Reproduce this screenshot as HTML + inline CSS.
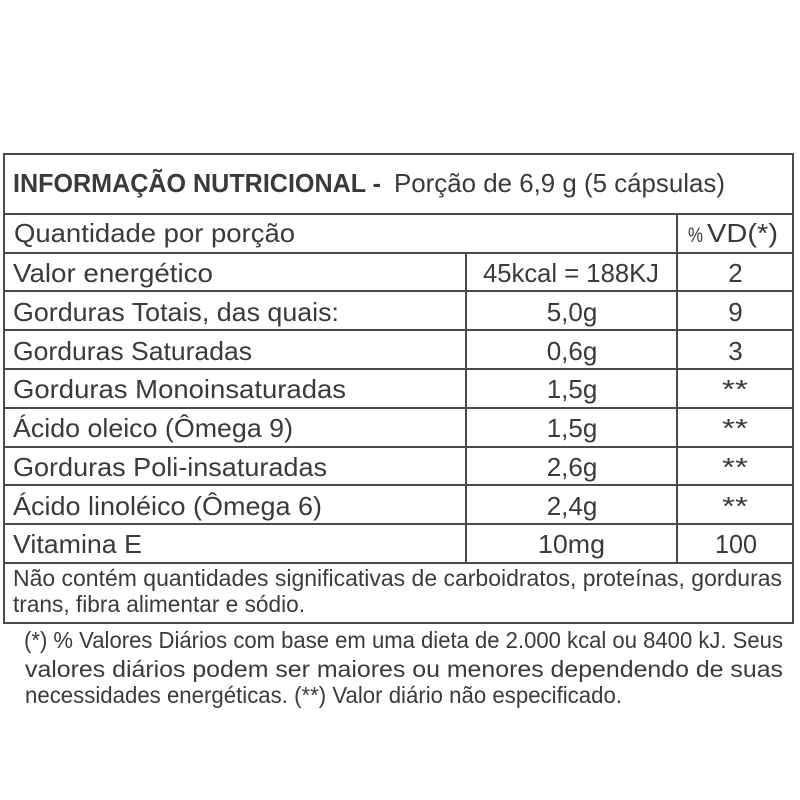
<!DOCTYPE html>
<html><head><meta charset="utf-8"><style>
html,body{margin:0;padding:0;background:#fff;}
svg{display:block;}
text{font-family:"Liberation Sans",sans-serif;fill:#3a3a3a;}
</style></head><body>
<svg width="800" height="800" viewBox="0 0 800 800" xmlns="http://www.w3.org/2000/svg">
<rect x="0" y="0" width="800" height="800" fill="#fff"/>
<g stroke="#4a4a4a" stroke-width="2" fill="none">
<rect x="4" y="154" width="789" height="469"/>
<line x1="4" y1="214" x2="793" y2="214"/>
<line x1="4" y1="253" x2="793" y2="253"/>
<line x1="4" y1="291" x2="793" y2="291"/>
<line x1="4" y1="330" x2="793" y2="330"/>
<line x1="4" y1="369" x2="793" y2="369"/>
<line x1="4" y1="408" x2="793" y2="408"/>
<line x1="4" y1="447" x2="793" y2="447"/>
<line x1="4" y1="485" x2="793" y2="485"/>
<line x1="4" y1="524" x2="793" y2="524"/>
<line x1="4" y1="563" x2="793" y2="563"/>
<line x1="466" y1="253" x2="466" y2="563"/>
<line x1="677" y1="214" x2="677" y2="563"/>
</g>
<g font-size="26">
<text x="13" y="192" font-weight="bold" textLength="368" lengthAdjust="spacingAndGlyphs">INFORMAÇÃO NUTRICIONAL -</text>
<text x="394" y="192" textLength="331" lengthAdjust="spacingAndGlyphs">Porção de 6,9 g (5 cápsulas)</text>

<text x="14" y="242" textLength="281" lengthAdjust="spacingAndGlyphs">Quantidade por porção</text>
<text x="688" y="242" font-size="21" textLength="15" lengthAdjust="spacingAndGlyphs">%</text>
<text x="707" y="242" textLength="71" lengthAdjust="spacingAndGlyphs">VD(*)</text>

<text x="13" y="282" textLength="200" lengthAdjust="spacingAndGlyphs">Valor energético</text>
<text x="483" y="282" textLength="176" lengthAdjust="spacingAndGlyphs">45kcal = 188KJ</text>
<text x="735.5" y="282" text-anchor="middle">2</text>

<text x="13" y="321" textLength="326" lengthAdjust="spacingAndGlyphs">Gorduras Totais, das quais:</text>
<text x="572" y="321" text-anchor="middle">5,0g</text>
<text x="735.5" y="321" text-anchor="middle">9</text>

<text x="13" y="360" textLength="239" lengthAdjust="spacingAndGlyphs">Gorduras Saturadas</text>
<text x="572" y="360" text-anchor="middle">0,6g</text>
<text x="735.5" y="360" text-anchor="middle">3</text>

<text x="13" y="398" textLength="333" lengthAdjust="spacingAndGlyphs">Gorduras Monoinsaturadas</text>
<text x="572" y="398" text-anchor="middle">1,5g</text>
<text x="722" y="398" textLength="26" lengthAdjust="spacingAndGlyphs">**</text>

<text x="13" y="437" textLength="280" lengthAdjust="spacingAndGlyphs">Ácido oleico (Ômega 9)</text>
<text x="572" y="437" text-anchor="middle">1,5g</text>
<text x="722" y="437" textLength="26" lengthAdjust="spacingAndGlyphs">**</text>

<text x="13" y="476" textLength="314" lengthAdjust="spacingAndGlyphs">Gorduras Poli-insaturadas</text>
<text x="572" y="476" text-anchor="middle">2,6g</text>
<text x="722" y="476" textLength="26" lengthAdjust="spacingAndGlyphs">**</text>

<text x="13" y="515" textLength="309" lengthAdjust="spacingAndGlyphs">Ácido linoléico (Ômega 6)</text>
<text x="572" y="515" text-anchor="middle">2,4g</text>
<text x="722" y="515" textLength="26" lengthAdjust="spacingAndGlyphs">**</text>

<text x="13" y="553" textLength="129" lengthAdjust="spacingAndGlyphs">Vitamina E</text>
<text x="538" y="553" textLength="67" lengthAdjust="spacingAndGlyphs">10mg</text>
<text x="715" y="553" textLength="42" lengthAdjust="spacingAndGlyphs">100</text>
</g>
<g font-size="23">
<text x="13" y="586" textLength="769" lengthAdjust="spacingAndGlyphs">Não contém quantidades significativas de carboidratos, proteínas, gorduras</text>
<text x="13" y="612" textLength="292" lengthAdjust="spacingAndGlyphs">trans, fibra alimentar e sódio.</text>
<text x="24" y="648" textLength="759" lengthAdjust="spacingAndGlyphs">(*) % Valores Diários com base em uma dieta de 2.000 kcal ou 8400 kJ. Seus</text>
<text x="25" y="677" textLength="758" lengthAdjust="spacingAndGlyphs">valores diários podem ser maiores ou menores dependendo de suas</text>
<text x="25" y="703" textLength="597" lengthAdjust="spacingAndGlyphs">necessidades energéticas. (**) Valor diário não especificado.</text>
</g>
</svg>
</body></html>
